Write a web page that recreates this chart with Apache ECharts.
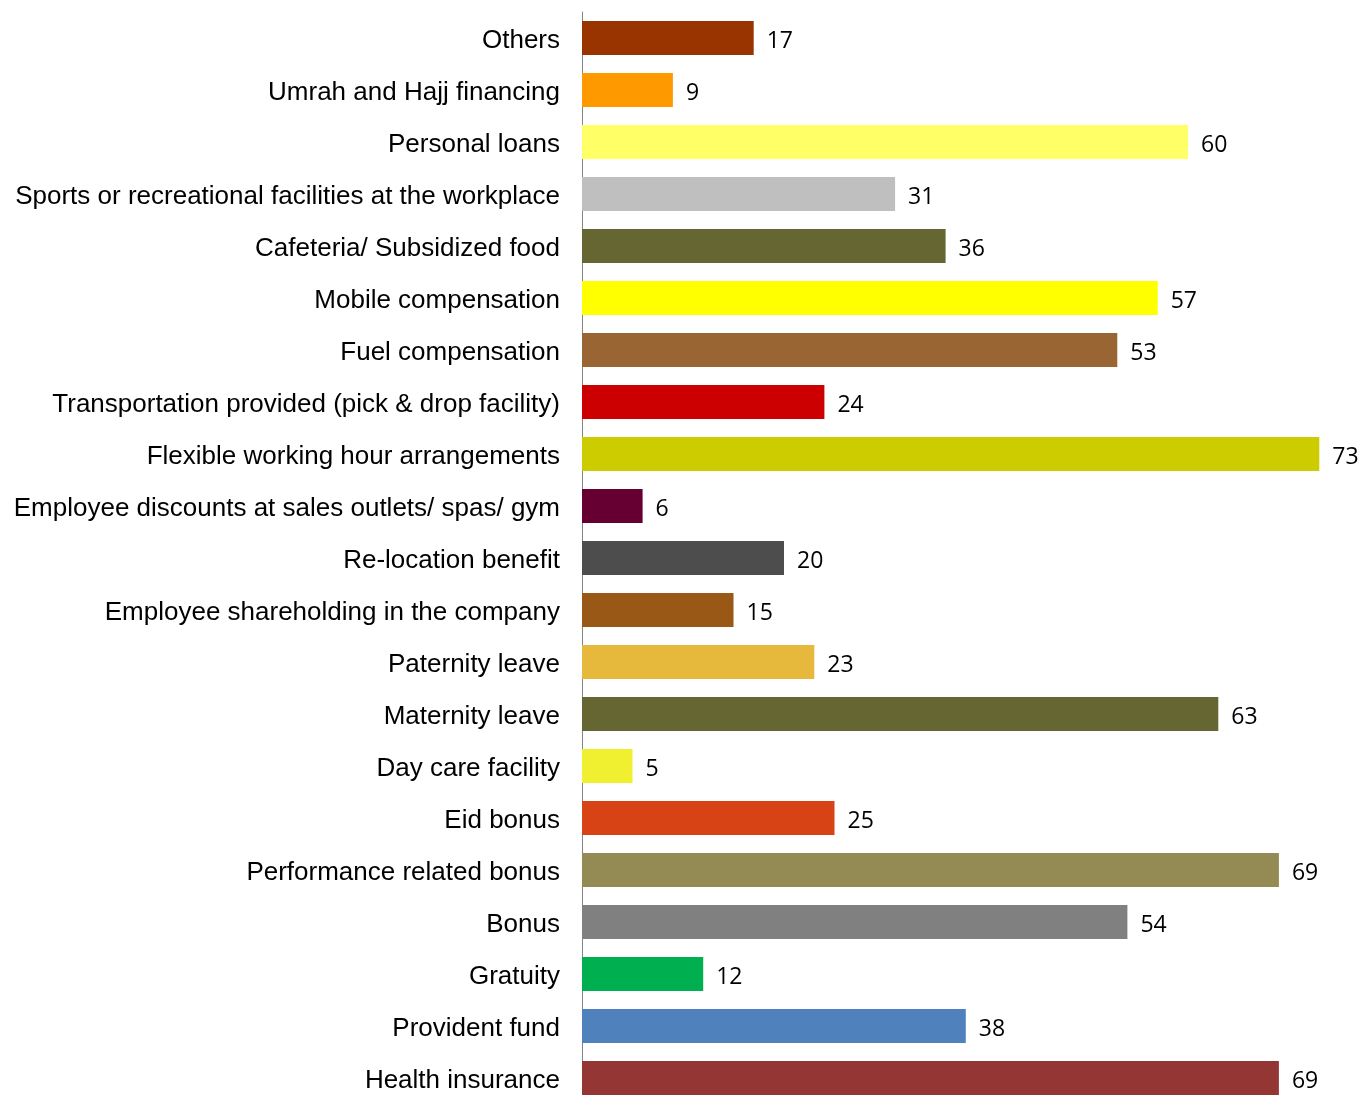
<!DOCTYPE html>
<html>
<head>
<meta charset="utf-8">
<script src="https://cdn.jsdelivr.net/npm/echarts@6/dist/echarts.min.js"></script>
<style>
  html, body { margin: 0; padding: 0; background: #fff; overflow: hidden; }
  #chart { width: 1400px; height: 1110px; }
</style>
</head>
<body>
<div id="chart"></div>
<script>
  // categories, top to bottom
  var categories = [
    'Others',
    'Umrah and Hajj financing',
    'Personal loans',
    'Sports or recreational facilities at the workplace',
    'Cafeteria/ Subsidized food',
    'Mobile compensation',
    'Fuel compensation',
    'Transportation provided (pick & drop facility)',
    'Flexible working hour arrangements',
    'Employee discounts at sales outlets/ spas/ gym',
    'Re-location benefit',
    'Employee shareholding in the company',
    'Paternity leave',
    'Maternity leave',
    'Day care facility',
    'Eid bonus',
    'Performance related bonus',
    'Bonus',
    'Gratuity',
    'Provident fund',
    'Health insurance'
  ];
  var values = [17, 9, 60, 31, 36, 57, 53, 24, 73, 6, 20, 15, 23, 63, 5, 25, 69, 54, 12, 38, 69];
  var barColors = [
    '#993300', '#ff9900', '#ffff66', '#bfbfbf', '#666633', '#ffff00', '#996633',
    '#cc0000', '#cccc00', '#660033', '#4d4d4d', '#995815', '#e6b83c', '#666633',
    '#f0f030', '#d84315', '#948a54', '#808080', '#00b050', '#4f81bd', '#943634'
  ];

  var myChart = echarts.init(document.getElementById('chart'));
  var option = {
    animation: false,
    grid: {
      left: 582,
      top: 12,
      width: 808,   // 80 units * 10.1 px
      height: 1092  // 21 rows * 52 px, runs past the window bottom
    },
    xAxis: {
      type: 'value',
      min: 0,
      max: 80,
      show: false
    },
    yAxis: {
      type: 'category',
      inverse: true,
      data: categories,
      axisLine: { show: true, lineStyle: { color: '#868686', width: 1 } },
      axisTick: { show: false },
      axisLabel: {
        margin: 22,
        color: '#000',
        fontFamily: 'Liberation Sans',
        fontSize: 26,
        // nudge labels ~3px below the row centre, like the original
        verticalAlign: 'top',
        lineHeight: 6
      }
    },
    series: [{
      type: 'bar',
      barCategoryGap: '35%',
      data: values.map(function (v, i) {
        return { value: v, itemStyle: { color: barColors[i] } };
      }),
      label: {
        show: true,
        position: 'right',
        distance: 13,
        offset: [0, 3],
        color: '#000',
        fontFamily: 'Open Sans',
        fontSize: 23
      }
    }]
  };
  myChart.setOption(option);
</script>
</body>
</html>
